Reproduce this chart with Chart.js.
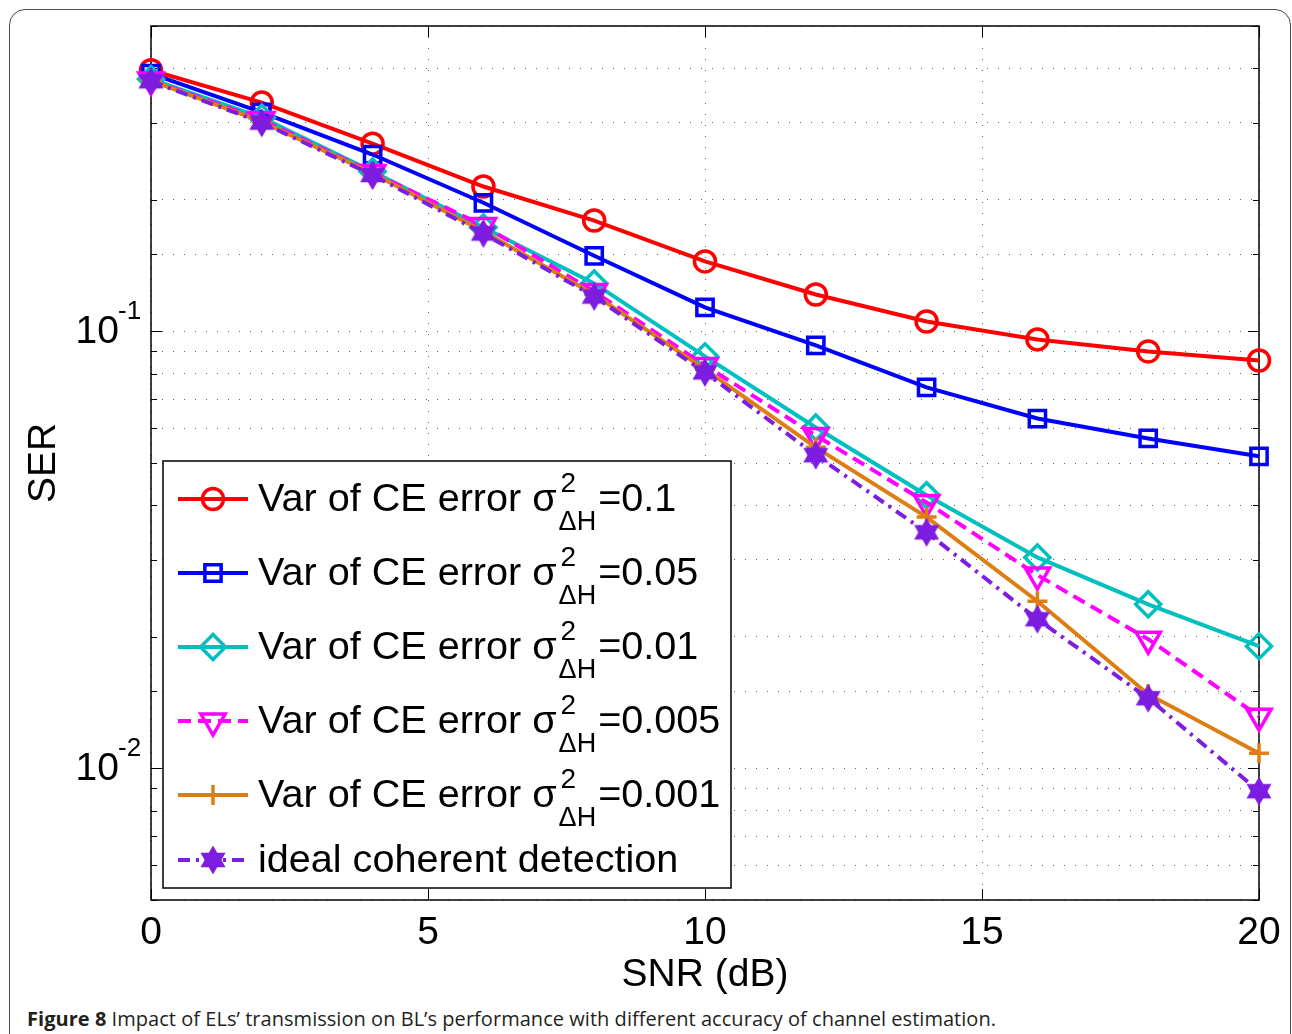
<!DOCTYPE html>
<html><head><meta charset="utf-8">
<script src="https://cdn.jsdelivr.net/npm/chart.js@4/dist/chart.umd.min.js"></script>
<style>
body{margin:0;background:#fff;width:1292px;height:1034px;overflow:hidden;position:relative;}
#frame{position:absolute;left:9px;top:9px;width:1282px;height:1100px;border:1.5px solid #4a4a4a;border-radius:16px;box-sizing:border-box;}
#c{position:absolute;left:0;top:0;}
#cap{position:absolute;left:27px;top:1009px;font-family:'Open Sans',sans-serif;font-size:20px;line-height:20px;color:#231f20;white-space:nowrap;}
</style></head>
<body>
<div id="frame"></div>
<canvas id="c" width="1292" height="1000"></canvas>
<div id="cap"><b>Figure 8</b> Impact of ELs’ transmission on BL’s performance with different accuracy of channel estimation.</div>
<script>
// ---- data ----
const snr = [0, 2, 4, 6, 8, 10, 12, 14, 16, 18, 20];
const ser_01   = [0.396, 0.334, 0.269, 0.2146, 0.1794, 0.1446, 0.1215, 0.1054, 0.0959, 0.0900, 0.0858];
const ser_005  = [0.389, 0.317, 0.254, 0.197, 0.149, 0.1135, 0.0929, 0.0745, 0.0632, 0.0569, 0.0518];
const ser_001  = [0.378, 0.3086, 0.2322, 0.1729, 0.1288, 0.0877, 0.0603, 0.0422, 0.0304, 0.02375, 0.01905];
const ser_0005 = [0.376, 0.3054, 0.2310, 0.1747, 0.1234, 0.0836, 0.0578, 0.0406, 0.0277, 0.01976, 0.01317];
const ser_0001 = [0.375, 0.302, 0.2298, 0.1693, 0.1215, 0.0819, 0.0543, 0.0376, 0.02414, 0.01479, 0.01083];
const ser_ideal= [0.3737, 0.3006, 0.228, 0.1675, 0.1202, 0.0806, 0.0521, 0.0347, 0.02195, 0.01448, 0.00887];
const xTicks = [0, 5, 10, 15, 20];
const yLabelValues = [0.1, 0.01];
const yLabelExps = ['-1', '-2'];
const legendValues = ['0.1', '0.05', '0.01', '0.005', '0.001'];
const idealLabel = 'ideal coherent detection';

const FONT = '"Liberation Sans", Arial, sans-serif';
const colors = ['#ff0000', '#0000ff', '#00bfbf', '#ff00ff', '#de7d12', '#7d1de0'];

// caption width fit
(function(){
  const cap = document.getElementById('cap');
  const w = cap.getBoundingClientRect().width;
  const n = cap.textContent.length;
  const target = 969;
  cap.style.letterSpacing = ((target - w) / n).toFixed(3) + 'px';
})();

// hexagram marker
function makeHex(col) {
  const s = 32, c = document.createElement('canvas'); c.width = c.height = s;
  const g = c.getContext('2d'); const R = 12.5, cx = s/2, cy = s/2;
  g.fillStyle = col; g.strokeStyle = col; g.lineWidth = 2; g.lineJoin = 'miter';
  for (let t = 0; t < 2; t++) {
    g.beginPath();
    for (let k = 0; k < 3; k++) {
      const a = -Math.PI/2 + t*Math.PI + k*2*Math.PI/3;
      const px = cx + R*Math.cos(a), py = cy + R*Math.sin(a);
      k ? g.lineTo(px, py) : g.moveTo(px, py);
    }
    g.closePath(); g.fill(); g.stroke();
  }
  return c;
}
const hexImg = makeHex(colors[5]);

const styles = [
  {pointStyle:'circle', radius:10.5, rot:0, dash:[]},
  {pointStyle:'rect', radius:11.5, rot:0, dash:[]},
  {pointStyle:'rectRot', radius:12.5, rot:0, dash:[]},
  {pointStyle:'triangle', radius:14, rot:180, dash:[13,7]},
  {pointStyle:'cross', radius:10, rot:0, dash:[]},
  {pointStyle:hexImg, radius:13, rot:0, dash:[12,6,3,6]}
];
const series = [ser_01, ser_005, ser_001, ser_0005, ser_0001, ser_ideal];
const labels = legendValues.map(v => 'Var of CE error σ²ΔH=' + v).concat([idealLabel]);

const datasets = series.map((arr, i) => ({
  label: labels[i],
  data: snr.map((x, j) => ({x: x, y: arr[j]})),
  borderColor: colors[i],
  borderWidth: 4,
  borderDash: styles[i].dash,
  pointStyle: styles[i].pointStyle,
  pointRadius: styles[i].radius,
  pointRotation: styles[i].rot,
  pointBorderWidth: 3.5,
  pointBorderColor: colors[i],
  pointBackgroundColor: 'rgba(0,0,0,0)',
  tension: 0,
  clip: false,
  order: 5 - i
}));

function marker(ctx, i, x, y) {
  const st = styles[i], r = st.radius;
  ctx.save();
  ctx.strokeStyle = colors[i]; ctx.lineWidth = 3.5; ctx.setLineDash([]);
  ctx.beginPath();
  if (st.pointStyle === 'circle') { ctx.arc(x, y, r, 0, 2*Math.PI); }
  else if (st.pointStyle === 'rect') { const s = r*Math.SQRT1_2; ctx.rect(x-s, y-s, 2*s, 2*s); }
  else if (st.pointStyle === 'rectRot') { ctx.moveTo(x, y-r); ctx.lineTo(x+r, y); ctx.lineTo(x, y+r); ctx.lineTo(x-r, y); ctx.closePath(); }
  else if (st.pointStyle === 'triangle') { const h = r; ctx.moveTo(x, y+h); ctx.lineTo(x+h*0.866, y-h/2); ctx.lineTo(x-h*0.866, y-h/2); ctx.closePath(); }
  else if (st.pointStyle === 'cross') { ctx.moveTo(x-r, y); ctx.lineTo(x+r, y); ctx.moveTo(x, y-r); ctx.lineTo(x, y+r); }
  else { ctx.drawImage(hexImg, x - hexImg.width/2, y - hexImg.height/2); ctx.restore(); return; }
  ctx.stroke();
  ctx.restore();
}

const framePlugin = {
  id: 'framePlugin',
  beforeDatasetsDraw(chart) {
    const {ctx, chartArea: a} = chart;
    const ys = chart.scales.y, xs = chart.scales.x;
    ctx.save();
    ctx.strokeStyle = '#000'; ctx.lineWidth = 1.5; ctx.setLineDash([]);
    ctx.strokeRect(a.left, a.top, a.right - a.left, a.bottom - a.top);
    ctx.lineWidth = 1;
    ctx.beginPath();
    ys.ticks.forEach(t => {
      const y = Math.round(ys.getPixelForValue(t.value)) + 0.5;
      const major = yLabelValues.some(v => Math.abs(v - t.value) < 1e-12);
      const L = major ? 11 : 6;
      ctx.moveTo(a.left, y); ctx.lineTo(a.left + L, y);
      ctx.moveTo(a.right, y); ctx.lineTo(a.right - L, y);
    });
    xs.ticks.forEach(t => {
      const x = Math.round(xs.getPixelForValue(t.value)) + 0.5;
      ctx.moveTo(x, a.bottom); ctx.lineTo(x, a.bottom - 11);
      ctx.moveTo(x, a.top); ctx.lineTo(x, a.top + 11);
    });
    ctx.stroke();
    ctx.restore();
  },
  afterDraw(chart) {
    const {ctx} = chart;
    const ys = chart.scales.y;
    ctx.save();
    ctx.fillStyle = '#000';
    // y tick labels with superscripts
    yLabelValues.forEach((v, i) => {
      const y = ys.getPixelForValue(v);
      ctx.font = '39px ' + FONT; ctx.textAlign = 'right'; ctx.textBaseline = 'middle';
      ctx.fillText('10', 119, y + 1);
      ctx.font = '26px ' + FONT; ctx.textAlign = 'left';
      ctx.fillText(yLabelExps[i], 118, y - 20);
    });
    // legend
    const L = 163, T = 461, R = 731, B = 888;
    ctx.fillStyle = '#fff';
    ctx.fillRect(L, T, R - L, B - T);
    ctx.strokeStyle = '#000'; ctx.lineWidth = 1.5;
    ctx.strokeRect(L, T, R - L, B - T);
    const rowY = [500, 574, 648, 722, 796, 861];
    for (let i = 0; i < 6; i++) {
      const y = rowY[i];
      ctx.save();
      ctx.strokeStyle = colors[i]; ctx.lineWidth = 4; ctx.setLineDash(styles[i].dash);
      ctx.beginPath(); ctx.moveTo(178, y - 1); ctx.lineTo(248, y - 1); ctx.stroke();
      ctx.restore();
      marker(ctx, i, 213, y - 1);
      ctx.fillStyle = '#000'; ctx.textAlign = 'left'; ctx.textBaseline = 'middle';
      ctx.font = '39.6px ' + FONT;
      if (i < 5) {
        const t1 = 'Var of CE error σ';
        ctx.fillText(t1, 258, y);
        let x = 258 + ctx.measureText(t1).width;
        ctx.font = '28px ' + FONT;
        ctx.fillText('2', x + 4, y - 16);
        const w2 = ctx.measureText('2').width + 4;
        ctx.font = '27px ' + FONT;
        ctx.fillText('ΔH', x + 2, y + 23);
        const wd = ctx.measureText('ΔH').width + 2;
        x += Math.max(w2, wd) + 2;
        ctx.font = '39.6px ' + FONT;
        ctx.fillText('=' + legendValues[i], x, y);
      } else {
        ctx.fillText(idealLabel, 258, y);
      }
    }
    ctx.restore();
  }
};

new Chart(document.getElementById('c'), {
  type: 'line',
  data: { datasets: datasets },
  options: {
    responsive: false,
    devicePixelRatio: 1,
    animation: false,
    layout: { padding: { top: 26, right: 33, left: 0, bottom: 0 } },
    plugins: { legend: { display: false }, tooltip: { enabled: false } },
    scales: {
      x: {
        type: 'linear', min: 0, max: 20,
        afterBuildTicks(s) { s.ticks = xTicks.map(v => ({value: v})); },
        afterFit(s) { s.height = 100; },
        ticks: { color: '#000', font: { size: 39, family: FONT }, padding: 10, maxRotation: 0 },
        grid: { color: 'rgba(0,0,0,0.6)', lineWidth: 1, drawTicks: false },
        border: { display: false, dash: [1, 10] },
        title: { display: true, text: 'SNR (dB)', color: '#000', font: { size: 39, family: FONT }, padding: { top: 0, bottom: 1 } }
      },
      y: {
        type: 'logarithmic', min: 0.005, max: 0.5,
        afterFit(s) { s.width = 151; },
        ticks: { display: false },
        grid: { color: 'rgba(0,0,0,0.6)', lineWidth: 1, drawTicks: false },
        border: { display: false, dash: [1, 10] },
        title: { display: true, text: 'SER', color: '#000', font: { size: 39, family: FONT }, padding: { top: 21, bottom: 0 } }
      }
    }
  },
  plugins: [framePlugin]
});
</script>
</body></html>
